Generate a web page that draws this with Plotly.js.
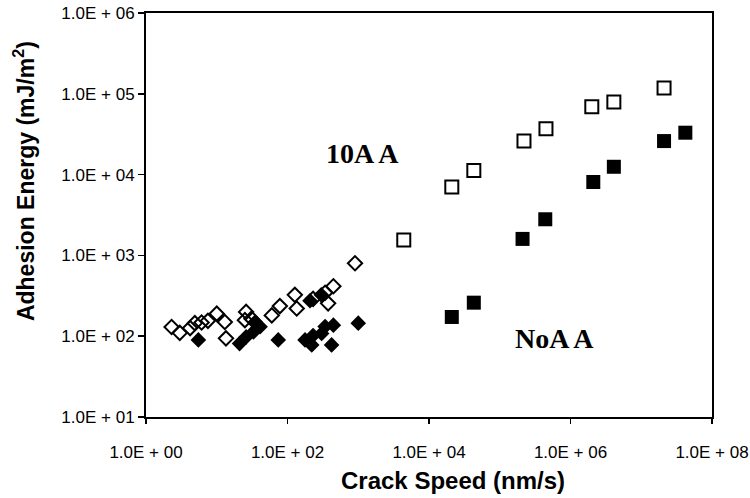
<!DOCTYPE html>
<html>
<head>
<meta charset="utf-8">
<script src="https://cdn.plot.ly/plotly-3.0.1.min.js"></script>
<style>html,body{margin:0;padding:0;background:#fff;}#chart{width:750px;height:498px;}</style>
</head>
<body>
<div id="chart"></div>
<script>
// 10AA open squares
const aa10SqX = [4.4e3, 2.1e4, 4.3e4, 2.2e5, 4.5e5, 2.0e6, 4.1e6, 2.1e7];
const aa10SqY = [1.55e3, 7.0e3, 1.12e4, 2.6e4, 3.7e4, 6.9e4, 7.9e4, 1.18e5];
// NoAA filled squares
const noaaSqX = [2.1e4, 4.3e4, 2.1e5, 4.4e5, 2.1e6, 4.1e6, 2.1e7, 4.2e7];
const noaaSqY = [173, 260, 1.6e3, 2.8e3, 8.1e3, 1.25e4, 2.6e4, 3.3e4];
// 10AA open diamonds
const aa10DiX = [2.3, 3.0, 4.2, 4.9, 6.1, 7.5, 10, 13, 13.5, 25, 26, 31, 60, 78, 127, 135, 230, 340, 445, 375, 900];
const aa10DiY = [130, 110, 126, 145, 148, 155, 190, 150, 94, 158, 200, 165, 181, 236, 325, 220, 290, 345, 415, 255, 800];
// NoAA filled diamonds
const noaaDiX = [5.5, 21, 26, 33, 41, 35, 74, 177, 230, 304, 420, 445, 340, 220, 1000, 300, 208];
const noaaDiY = [90, 81, 98, 113, 131, 150, 90, 90, 102, 108, 78, 137, 132, 78, 145, 325, 275];

const tickX = [1, 1e2, 1e4, 1e6, 1e8];
const tickXText = ['1.0E\u00a0+\u00a000', '1.0E\u00a0+\u00a002', '1.0E\u00a0+\u00a004', '1.0E\u00a0+\u00a006', '1.0E\u00a0+\u00a008'];
const tickY = [1e1, 1e2, 1e3, 1e4, 1e5, 1e6];
const tickYText = ['1.0E\u00a0+\u00a001', '1.0E\u00a0+\u00a002', '1.0E\u00a0+\u00a003', '1.0E\u00a0+\u00a004', '1.0E\u00a0+\u00a005', '1.0E\u00a0+\u00a006'];

const traces = [
  {x: aa10DiX, y: aa10DiY, type: 'scatter', mode: 'markers', name: '10AA diamonds',
   marker: {symbol: 'diamond-open', size: 11, color: '#000', line: {width: 2, color: '#000'}}},
  {x: noaaDiX, y: noaaDiY, type: 'scatter', mode: 'markers', name: 'NoAA diamonds',
   marker: {symbol: 'diamond', size: 12, color: '#000', line: {width: 0}}},
  {x: aa10SqX, y: aa10SqY, type: 'scatter', mode: 'markers', name: '10AA',
   marker: {symbol: 'square-open', size: 13, color: '#000', line: {width: 2, color: '#000'}}},
  {x: noaaSqX, y: noaaSqY, type: 'scatter', mode: 'markers', name: 'NoAA',
   marker: {symbol: 'square', size: 14, color: '#000', line: {width: 0}}}
];

const layout = {
  width: 750, height: 498,
  margin: {l: 146, r: 38, t: 13, b: 81},
  paper_bgcolor: '#fff', plot_bgcolor: '#fff',
  showlegend: false,
  font: {family: 'Liberation Sans, Arial, sans-serif', color: '#000', size: 17},
  xaxis: {
    type: 'log', range: [0, 8],
    tickvals: tickX, ticktext: tickXText,
    ticks: 'outside', ticklen: 5, tickwidth: 1.5, tickcolor: '#000',
    ticklabelstandoff: 14,
    showline: true, linecolor: '#000', linewidth: 2, mirror: true,
    showgrid: false, zeroline: false,
    tickfont: {size: 17, family: 'Liberation Sans, Arial, sans-serif'}
  },
  yaxis: {
    type: 'log', range: [1, 6],
    tickvals: tickY, ticktext: tickYText,
    ticks: 'outside', ticklen: 6, tickwidth: 1.5, tickcolor: '#000',
    ticklabelstandoff: 0,
    showline: true, linecolor: '#000', linewidth: 2, mirror: true,
    showgrid: false, zeroline: false,
    tickfont: {size: 17, family: 'Liberation Sans, Arial, sans-serif'}
  },
  annotations: [
    {xref: 'paper', yref: 'paper', x: -0.2155, y: 0.584, xanchor: 'center', yanchor: 'middle',
     textangle: -90, showarrow: false,
     text: '<b>Adhesion Energy (mJ/m<sup>2</sup>)</b>', font: {size: 23, color: '#000'}},
    {xref: 'paper', yref: 'paper', x: 0.542, y: -0.156, xanchor: 'center', yanchor: 'middle',
     showarrow: false, text: '<b>Crack Speed (nm/s)</b>', font: {size: 24, color: '#000'}},
    {x: Math.log10(1.13e3), y: Math.log10(1.85e4), xref: 'x', yref: 'y', text: '<b>10A A</b>', showarrow: false,
     font: {family: 'Liberation Serif, Times New Roman, serif', size: 28, color: '#000'}},
    {x: Math.log10(5.9e5), y: Math.log10(95), xref: 'x', yref: 'y', text: '<b>NoA A</b>', showarrow: false,
     font: {family: 'Liberation Serif, Times New Roman, serif', size: 28, color: '#000'}}
  ]
};

Plotly.newPlot('chart', traces, layout, {displayModeBar: false, staticPlot: true});
</script>
</body>
</html>
